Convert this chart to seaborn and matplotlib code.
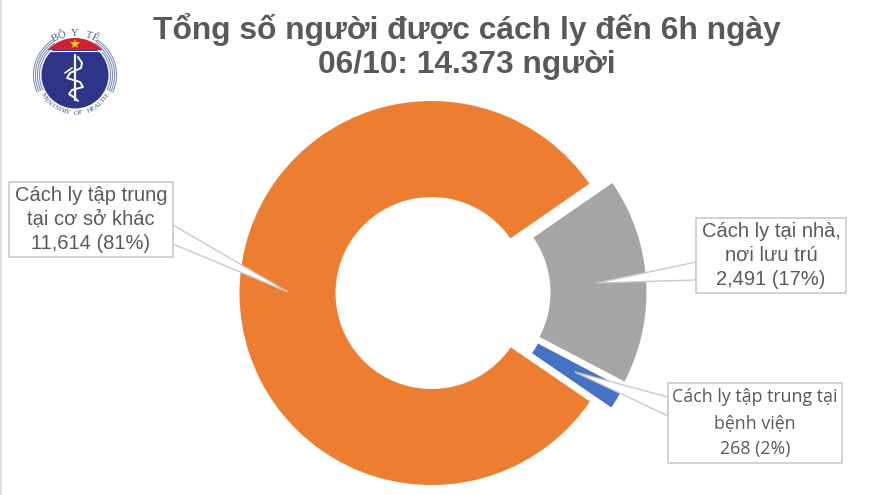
import numpy as np
import matplotlib
matplotlib.use("Agg")
import matplotlib.pyplot as plt
from matplotlib.patches import Circle, Polygon, Rectangle, Wedge
import seaborn as sns

# Chart data
categories = ["Cách ly tại nhà,\nnơi lưu trú", "Cách ly tập trung tại\nbệnh viện", "Cách ly tập trung\ntại cơ sở khác"]
people = [2491, 268, 11614]
value_labels = ["2,491 (17%)", "268 (2%)", "11,614 (81%)"]
slice_colors = ["#A5A5A5", "#4472C4", "#ED7D31"]
title_lines = "Tổng số người được cách ly đến 6h ngày\n06/10: 14.373 người"

sns.set_style("white")
plt.rcParams["font.family"] = ["Liberation Sans", "DejaVu Sans"]

W, H = 880, 495
TEXT = "#595959"
EDGE = "#C9C9C9"


def fy(y):
    # picture rows run downwards, the axes run upwards
    return H - y


fig = plt.figure(figsize=(W / 100, H / 100), dpi=100)
ax = fig.add_axes([0, 0, 1, 1])

ax.pie(
    people,
    colors=sns.color_palette(slice_colors),
    startangle=34.7,
    counterclock=False,
    center=(443, fy(293)),
    radius=192,
    explode=[11.5, 11.5, 11.5],
    wedgeprops={"width": 96, "linewidth": 0},
)
ax.set_xlim(0, W)
ax.set_ylim(0, H)
ax.set_aspect("equal")
ax.axis("off")

ax.text(467, fy(46.5), title_lines, ha="center", va="center", fontsize=22.9,
        fontweight="bold", color=TEXT, linespacing=1.18)

# Callout boxes: box corners, tail base and tail tip
callouts = [
    (696, 218, 846, 293, [(696, 262), (597, 283), (696, 280)], "Liberation Sans", 14.5, 1.32, 0),
    (668, 383, 842, 463, [(668, 397), (575, 372), (668, 416)], "Open Sans", 12.8, 1.55, 1),
    (9, 182, 173, 257, [(173, 225), (288, 292), (173, 244)], "Liberation Sans", 14.5, 1.32, 2),
]
for x0, y0, x1, y1, tail, font, size, spacing, i in callouts:
    ax.add_patch(Polygon([(x, fy(y)) for x, y in tail], closed=True, facecolor="white",
                         edgecolor=EDGE, linewidth=1, zorder=5))
    ax.add_patch(Rectangle((x0, fy(y1)), x1 - x0, y1 - y0, facecolor="white",
                           edgecolor=EDGE, linewidth=1.2, zorder=6))
    ax.text((x0 + x1) / 2, fy((y0 + y1) / 2), categories[i] + "\n" + value_labels[i],
            ha="center", va="center", fontsize=size, color=TEXT, family=[font, "DejaVu Sans"],
            linespacing=spacing, zorder=7)

# Ministry logo, drawn with plain patches
lx, ly = 75, fy(75)
NAVY = "#2E3488"
RED = "#CF2030"
for rad in [35.5, 37.5, 39.5, 41.5]:
    for a0, a1 in [(-25, 58), (122, 205)]:
        ax.add_patch(Wedge((lx, ly), rad + 0.6, a0, a1, width=1.1, facecolor="#7F8FB5", linewidth=0))
ax.add_patch(Circle((lx, ly), 33.5, facecolor=NAVY, linewidth=0))
red_top = Circle((lx, ly), 37, facecolor=RED, linewidth=0)
ax.add_patch(red_top)
red_top.set_clip_path(Rectangle((lx - 40, ly + 25), 80, 20, transform=ax.transData))
ax.plot([lx - 26, lx + 26], [ly + 24.5, ly + 24.5], color="white", linewidth=0.8)
ax.plot([lx], [ly + 31], marker="*", color="#F7C81E", markersize=7, markeredgewidth=0)
ax.plot([lx, lx], [ly - 25, ly + 20], color="white", linewidth=1.6)
snake_x = [3, 7, 6, -5, -8, 5, 8, -3, -6, 0, 3]
snake_y = [18, 12, 7, 2, -3, -7, -12, -15, -19, -23, -26]
ax.plot([lx + v for v in snake_x], [ly + v for v in snake_y], color="white", linewidth=1.4)
ax.plot([lx - 10, lx - 3], [ly + 2, ly + 7], color="white", linewidth=1.2)


def arc_text(text, radius, start, step, size, flip=False):
    for n, ch in enumerate(text):
        ang = start + n * step
        px = lx + radius * np.cos(np.radians(ang))
        py = ly + radius * np.sin(np.radians(ang))
        rot = ang + 90 if flip else ang - 90
        ax.text(px, py, ch, rotation=rot, rotation_mode="anchor", ha="center", va="center",
                fontsize=size, color="#4A5080", family=["Liberation Serif", "DejaVu Serif"])


arc_text("BỘ Y TẾ", 42, 118, -9.3, 7.5)
arc_text("MINISTRY OF HEALTH", 38, 214, 6.5, 5.4, flip=True)

ax.plot([1, 1], [0, H], color="#DDDDDD", linewidth=1.5)

fig.savefig("out.png", dpi=100)
